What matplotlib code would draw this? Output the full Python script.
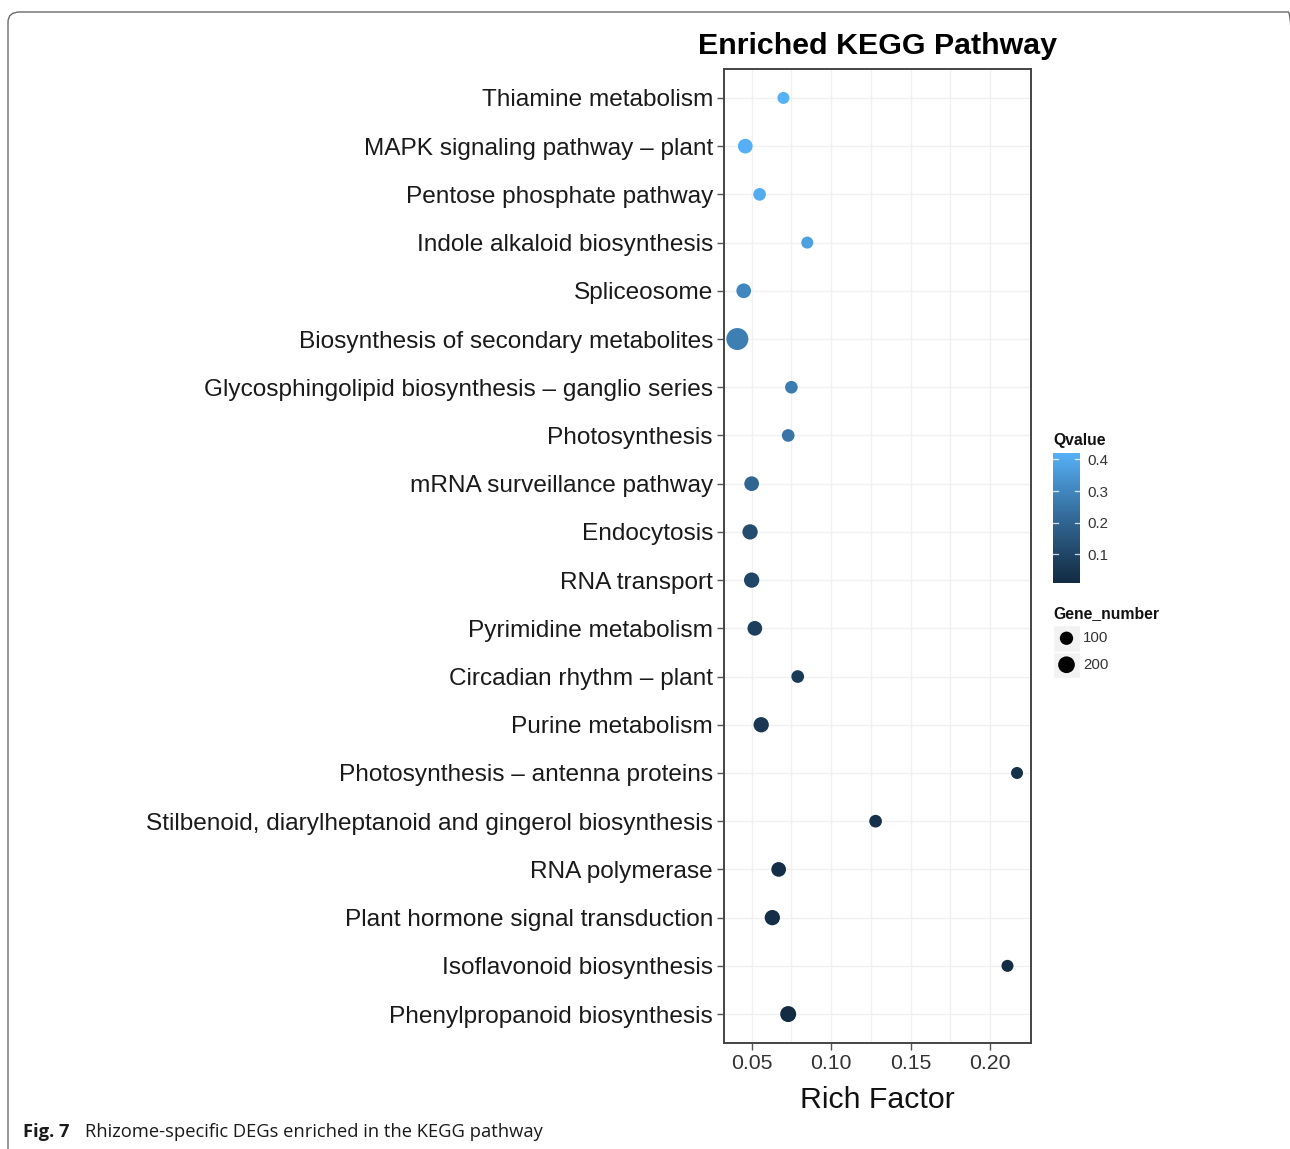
import numpy as np
import matplotlib
matplotlib.use("Agg")
import matplotlib.pyplot as plt
from matplotlib.patches import FancyBboxPatch, Rectangle
from matplotlib.colors import ListedColormap, Normalize

# ---- data -----------------------------------------------------------------
pathways = [
    "Thiamine metabolism",
    "MAPK signaling pathway \u2013 plant",
    "Pentose phosphate pathway",
    "Indole alkaloid biosynthesis",
    "Spliceosome",
    "Biosynthesis of secondary metabolites",
    "Glycosphingolipid biosynthesis \u2013 ganglio series",
    "Photosynthesis",
    "mRNA surveillance pathway",
    "Endocytosis",
    "RNA transport",
    "Pyrimidine metabolism",
    "Circadian rhythm \u2013 plant",
    "Purine metabolism",
    "Photosynthesis \u2013 antenna proteins",
    "Stilbenoid, diarylheptanoid and gingerol biosynthesis",
    "RNA polymerase",
    "Plant hormone signal transduction",
    "Isoflavonoid biosynthesis",
    "Phenylpropanoid biosynthesis",
]
rich_factor = [0.070, 0.046, 0.055, 0.085, 0.045, 0.041, 0.075, 0.073, 0.050, 0.049,
               0.050, 0.052, 0.079, 0.056, 0.217, 0.128, 0.067, 0.063, 0.211, 0.073]
qvalue = [0.420, 0.415, 0.405, 0.375, 0.300, 0.275, 0.270, 0.250, 0.200, 0.120,
          0.100, 0.080, 0.060, 0.050, 0.030, 0.030, 0.020, 0.020, 0.015, 0.010]
gene_number = [68, 138, 84, 68, 138, 400, 84, 84, 138, 156,
               156, 138, 84, 156, 68, 84, 138, 156, 68, 177]

x_ticks = [0.05, 0.10, 0.15, 0.20]
q_ticks = [0.1, 0.2, 0.3, 0.4]
size_breaks = [100, 200]


# ---- colour gradient interpolated in CIE Lab (low -> high) ----------------
def _hex_to_rgb(h):
    h = h.lstrip("#")
    return np.array([int(h[i:i + 2], 16) / 255 for i in (0, 2, 4)])


def _rgb_to_lab(rgb):
    c = np.where(rgb > 0.04045, ((rgb + 0.055) / 1.055) ** 2.4, rgb / 12.92)
    m = np.array([[0.4124, 0.3576, 0.1805],
                  [0.2126, 0.7152, 0.0722],
                  [0.0193, 0.1192, 0.9505]])
    xyz = m @ c / np.array([0.95047, 1.0, 1.08883])
    f = np.where(xyz > 0.008856, np.cbrt(xyz), 7.787 * xyz + 16 / 116)
    return np.array([116 * f[1] - 16, 500 * (f[0] - f[1]), 200 * (f[1] - f[2])])


def _lab_to_rgb(lab):
    fy = (lab[0] + 16) / 116
    fx = fy + lab[1] / 500
    fz = fy - lab[2] / 200
    f = np.array([fx, fy, fz])
    xyz = np.where(f ** 3 > 0.008856, f ** 3, (f - 16 / 116) / 7.787)
    xyz = xyz * np.array([0.95047, 1.0, 1.08883])
    minv = np.array([[3.2406, -1.5372, -0.4986],
                     [-0.9689, 1.8758, 0.0415],
                     [0.0557, -0.2040, 1.0570]])
    c = minv @ xyz
    c = np.where(c > 0.0031308, 1.055 * np.clip(c, 0, None) ** (1 / 2.4) - 0.055, 12.92 * c)
    return np.clip(c, 0, 1)


lab_lo = _rgb_to_lab(_hex_to_rgb("#132B43"))
lab_hi = _rgb_to_lab(_hex_to_rgb("#56B1F7"))
grad = [_lab_to_rgb(lab_lo + t * (lab_hi - lab_lo)) for t in np.linspace(0, 1, 256)]
cmap = ListedColormap(grad)
q_lo, q_hi = min(qvalue), max(qvalue)
norm = Normalize(q_lo, q_hi)


def dot_area(n):
    # area grows linearly with gene count; returns scatter size in pt^2
    d_px = np.sqrt(75 + 1.02 * np.asarray(n, dtype=float))
    return (d_px * 0.72) ** 2


# ---- figure -----------------------------------------------------------------
plt.rcParams["font.family"] = ["Liberation Sans", "DejaVu Sans"]
W, H = 1290, 1149
fig = plt.figure(figsize=(W / 100, H / 100), dpi=100)


def fx(px):
    return px / W


def fy(py):
    return 1 - py / H


# outer rounded frame (only the top and left edges fall on the canvas)
frame = FancyBboxPatch((fx(8), fy(1200)), fx(1300) - fx(8), fy(12) - fy(1200),
                       boxstyle="round,pad=0,rounding_size=0.009",
                       transform=fig.transFigure, fill=False,
                       edgecolor="#6a6a6a", linewidth=1.0, clip_on=False)
fig.patches.append(frame)

# main panel
ax = fig.add_axes([fx(724), fy(1043), fx(1031) - fx(724), fy(69) - fy(1043)])
n = len(pathways)
ypos = np.arange(n)[::-1]
ax.scatter(rich_factor, ypos, s=dot_area(gene_number), c=qvalue, cmap=cmap, norm=norm,
           edgecolors="none", zorder=3)

ax.set_xlim(0.0326, 0.2258)
ax.set_ylim(-0.6, n - 1 + 0.6)
ax.set_yticks(ypos)
ax.set_yticklabels(pathways, fontsize=17.6, color="#1a1a1a")
ax.set_xticks(x_ticks)
ax.set_xticklabels([f"{t:.2f}" for t in x_ticks], fontsize=15.3, color="#333333")
ax.set_xticks([0.075, 0.125, 0.175], minor=True)
ax.tick_params(axis="both", which="major", length=5, width=1.0, color="#555555", pad=3)
ax.tick_params(axis="x", which="minor", length=0)
ax.grid(True, which="both", color="#f0f0f0", linewidth=1.0, zorder=0)
ax.set_axisbelow(True)
for sp in ax.spines.values():
    sp.set_color("#444444")
    sp.set_linewidth(1.4)
ax.set_xlabel("Rich Factor", fontsize=21.8, color="#111111", labelpad=9)
ax.set_title("Enriched KEGG Pathway", fontsize=21.9, fontweight="bold", pad=11)

# colour legend
fig.text(fx(1053), fy(440), "Qvalue", fontsize=11.3, fontweight="bold",
         va="center", ha="left", color="#111111")
cax = fig.add_axes([fx(1053), fy(583), fx(1080) - fx(1053), fy(453) - fy(583)])
cax.imshow(np.linspace(q_lo, q_hi, 256)[:, None], aspect="auto", cmap=cmap, norm=norm,
           origin="lower", extent=[0, 1, q_lo, q_hi])
cax.set_xlim(0, 1)
cax.set_ylim(q_lo, q_hi)
for sp in cax.spines.values():
    sp.set_visible(False)
cax.set_xticks([])
cax.yaxis.tick_right()
cax.set_yticks(q_ticks)
cax.set_yticklabels([f"{t:.1f}" for t in q_ticks], fontsize=10.8, color="#333333")
cax.tick_params(axis="y", length=0, pad=5)
for t in q_ticks:
    cax.plot([0, 0.2], [t, t], color="white", lw=0.9, alpha=0.8)
    cax.plot([0.8, 1], [t, t], color="white", lw=0.9, alpha=0.8)

# size legend
fig.text(fx(1053), fy(614), "Gene_number", fontsize=11.3, fontweight="bold",
         va="center", ha="left", color="#111111")
lax = fig.add_axes([fx(1053), fy(678), fx(1080) - fx(1053), fy(625) - fy(678)])
lax.set_xlim(0, 1)
lax.set_ylim(0, 2)
lax.axis("off")
for i, b in enumerate(size_breaks):
    yc = 1.5 - i
    lax.add_patch(Rectangle((0, yc - 0.5), 1, 1, facecolor="#f2f2f2", edgecolor="white",
                            linewidth=1.0))
    lax.scatter([0.5], [yc], s=dot_area(b), color="black", edgecolors="none", zorder=3)
    lax.text(1.12, yc, str(b), fontsize=10.8, va="center", ha="left", color="#333333",
             transform=lax.transData, clip_on=False)

# caption
fig.text(fx(23), fy(1132), "Fig. 7", fontsize=13.2, fontweight="bold", va="center",
         ha="left", family=["Open Sans", "DejaVu Sans"], color="#1a1a1a")
fig.text(fx(85), fy(1132), "Rhizome-specific DEGs enriched in the KEGG pathway",
         fontsize=13.2, va="center", ha="left", family=["Open Sans", "DejaVu Sans"],
         color="#1a1a1a")

fig.savefig("out.png", dpi=100, facecolor="white")
